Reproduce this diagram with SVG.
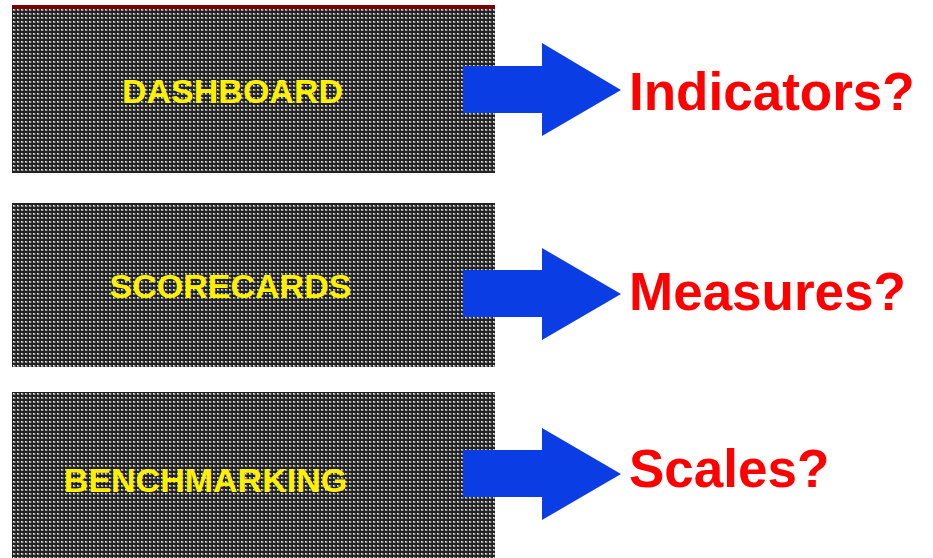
<svg xmlns="http://www.w3.org/2000/svg" width="933" height="558" viewBox="0 0 933 558">
  <style>
    .panel { fill: url(#mesh); }
    .label { font-family: "Liberation Sans", Arial, sans-serif; font-weight: bold; font-size: 34px; fill: #fff000; text-anchor: middle; }
    .question { font-family: "Liberation Sans", Arial, sans-serif; font-weight: bold; font-size: 53px; fill: #ff0000; }
    .arrow { fill: #0b3de4; }
  </style>
  <defs>
    <!-- dotted screen texture for the panels -->
    <pattern id="mesh" x="0" y="0" width="4" height="4" patternUnits="userSpaceOnUse">
      <rect width="4" height="4" fill="#222222"/>
      <rect x="1" y="1" width="2" height="2" fill="#9a9a9a"/>
      <rect x="1" y="1" width="1" height="1" fill="#eeeeee"/>
      <rect x="3" y="1" width="1" height="2" fill="#4a4a4a"/>
    </pattern>
  </defs>

  <rect width="933" height="558" fill="#ffffff"/>

  <g id="dashboard">
    <rect class="panel" x="12" y="5" width="483" height="168"/>
    <rect x="12" y="5" width="483" height="4" fill="#7a0000"/>
    <text class="label" x="232.5" y="103">DASHBOARD</text>
  </g>

  <g id="scorecards">
    <rect class="panel" x="12" y="203" width="483" height="164"/>
    <text class="label" x="230.5" y="298">SCORECARDS</text>
  </g>

  <g id="benchmarking">
    <rect class="panel" x="12" y="392" width="483" height="166"/>
    <text class="label" x="205.5" y="492">BENCHMARKING</text>
  </g>

  <g id="connectors">
    <polygon class="arrow" points="463,66 542,66 542,43 621,90 542,136 542,113 463,113"/>
    <polygon class="arrow" points="463,270 542,270 542,248 621,294 542,340 542,317 463,317"/>
    <polygon class="arrow" points="463,450 542,450 542,428 621,474 542,520 542,497 463,497"/>
  </g>

  <g id="indicators">
    <text class="question" x="629" y="110">Indicators?</text>
  </g>
  <g id="measures">
    <text class="question" x="629" y="310">Measures?</text>
  </g>
  <g id="scales">
    <text class="question" x="629" y="487">Scales?</text>
  </g>
</svg>
